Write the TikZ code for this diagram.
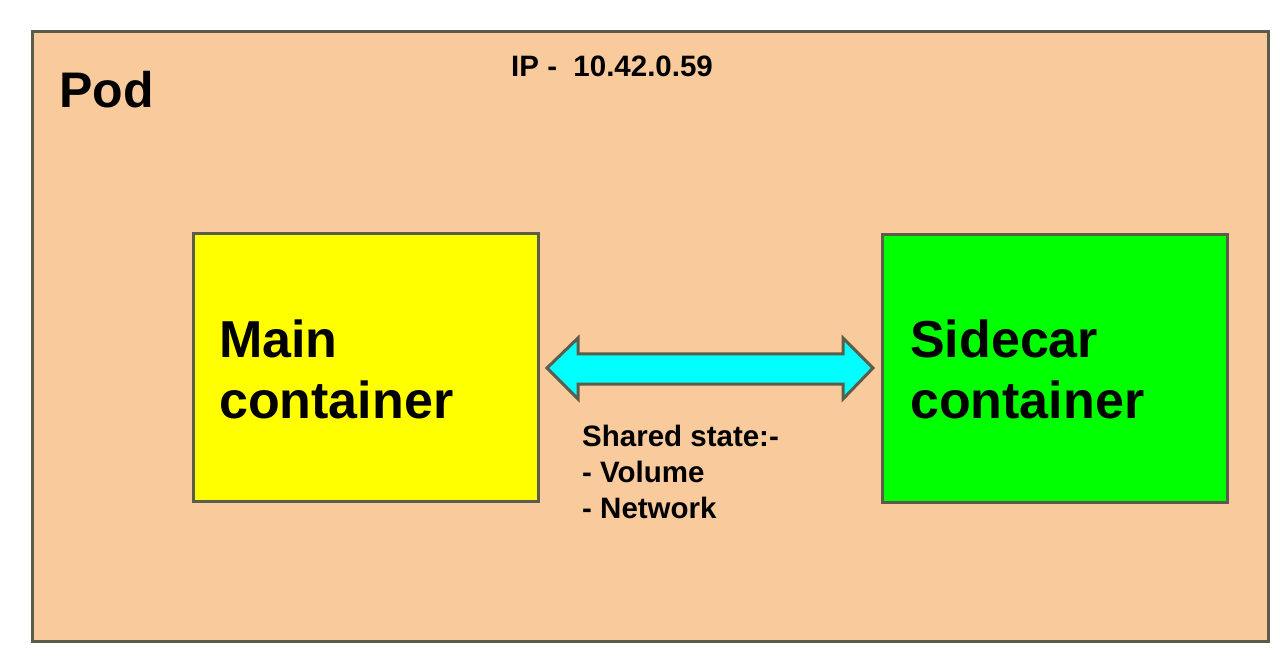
\documentclass[tikz,border=0pt]{standalone}
\usepackage{fontspec}
\setmainfont{Liberation Sans}
\definecolor{podfill}{HTML}{F9CB9C}
\definecolor{edge}{RGB}{92,92,74}
\definecolor{mainfill}{HTML}{FFFF00}
\definecolor{sidefill}{HTML}{00FF00}
\definecolor{arrowfill}{HTML}{00FFFF}
\tikzset{
  box/.style={draw=edge, line width=3pt},
  big/.style={inner sep=0pt, anchor=base west, font=\fontsize{52}{60}\selectfont\bfseries},
  small/.style={inner sep=0pt, anchor=base west, font=\fontsize{29.5}{36}\selectfont\bfseries},
}
\begin{document}
\begin{tikzpicture}[x=1pt,y=-1pt]
\useasboundingbox (0,0) rectangle (1280,660);
\fill[white] (0,0) rectangle (1280,660);
% pod
\draw[box, fill=podfill] (32,32) rectangle (1268,641);
\node[inner sep=0pt, anchor=base west, font=\fontsize{50}{60}\selectfont\bfseries] (podlbl) at (59,108) {Pod};
\node[small] (ip) at (511,77) {IP -\ \ 10.42.0.59};
% containers
\draw[box, fill=mainfill] (193,234) rectangle (538,501);
\draw[box, fill=sidefill] (882,235) rectangle (1227,502);
\node[big] (main1) at (219,357) {Main};
\node[big] (main2) at (219,418) {container};
\node[big] (side1) at (910,357) {Sidecar};
\node[big] (side2) at (910,418) {container};
% arrow
\draw[box, fill=arrowfill, line join=miter]
  (547,368) -- (578,338) -- (578,354) -- (843,354) -- (843,338) -- (873,368)
  -- (843,399) -- (843,384) -- (578,384) -- (578,399) -- cycle;
% shared state
\node[small] (s1) at (582,446) {Shared state:-};
\node[small] (s2) at (582,482) {- Volume};
\node[small] (s3) at (582,518) {- Network};
\end{tikzpicture}
\end{document}
